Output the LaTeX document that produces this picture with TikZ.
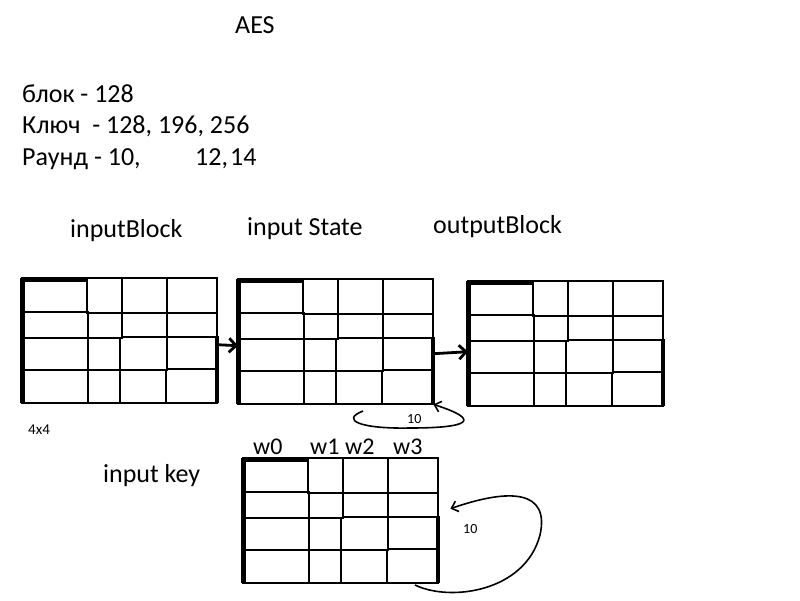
\documentclass[tikz,border=0pt]{standalone}
\usepackage{fontspec}
\setmainfont{Carlito}
\usetikzlibrary{arrows.meta}
\tikzset{
  lbl/.style={anchor=base west, inner sep=0, font=\fontsize{26}{30}\selectfont},
  small/.style={anchor=base west, inner sep=0, font=\fontsize{14}{16}\selectfont},
  gridframe/.style={minimum width=195pt, minimum height=125pt, inner sep=0, anchor=north west},
  gline/.style={line width=2.8pt, line cap=rect},
  bigarrow/.style={line width=2.8pt, -{Straight Barb[length=7pt,width=14pt]}},
  looparrow/.style={line width=1.6pt, -{Straight Barb[length=6pt,width=11pt]}},
  pics/aesgrid/.style={code={
    \draw[gline] (0,34) -- (65,34) (65,35) -- (195,35);
    \draw[gline] (0,60) -- (100,60) (100,59) -- (195,59);
    \draw[gline] (0,92) -- (145,92) (145,91) -- (195,91);
    \draw[gline] (65,0) -- (65,34) (66,34) -- (66,125);
    \draw[gline] (100,0) -- (100,60) (98,60) -- (98,125);
    \draw[gline] (145,0) -- (145,92) (144,92) -- (144,125);
    \draw[gline] (0,0) rectangle (195,125);
    \draw[line width=5pt] (0,1) -- (65,1);
    \draw[line width=4.5pt] (0.5,0) -- (0.5,125);
    \draw[line width=4.5pt] (195,58) -- (195,125);
  }}
}
\begin{document}
\begin{tikzpicture}[x=1pt,y=-1pt]
\useasboundingbox (0,0) rectangle (800,600);

% texts
\node[lbl] (aes) at (235,33) {AES};
\node[lbl] (blok) at (22,102) {блок - 128};
\node[lbl] (kl) at (22,133) {Ключ\ \ - 128, 196, 256};
\node[lbl] (raund) at (22,165) {Раунд - 10,};
\node[lbl] (r12) at (195,165) {12,};
\node[lbl] (r14) at (230,165) {14};
\node[lbl] (tin) at (70,237) {inputBlock};
\node[lbl] (tst) at (247,235) {input State};
\node[lbl] (tout) at (433,233) {outputBlock};
\node[lbl] (tkey) at (103,482) {input key};
\node[small, font=\fontsize{15}{17}\selectfont] (fx) at (28,434) {4x4};
\node[lbl, font=\fontsize{24}{28}\selectfont] (w0) at (253,454) {w0};
\node[lbl, font=\fontsize{24}{28}\selectfont] (w1) at (310,454) {w1};
\node[lbl, font=\fontsize{24}{28}\selectfont] (w2) at (345,454) {w2};
\node[lbl, font=\fontsize{24}{28}\selectfont] (w3) at (393,454) {w3};

% grids
\node[gridframe] (g1) at (22,278) {};
\node[gridframe] (g2) at (238,279) {};
\node[gridframe] (g3) at (468,281) {};
\node[gridframe] (g4) at (243,458) {};
\pic at (22,278) {aesgrid};
\pic at (238,279) {aesgrid};
\pic at (468,281) {aesgrid};
\pic at (243,458) {aesgrid};

% arrows
\draw[bigarrow] ([yshift=-4pt]g1.east) -- ([yshift=-4pt]g2.west);
\draw[bigarrow] ([yshift=-12pt]g2.east) -- ([yshift=-8pt]g3.west);

\coordinate (l1s) at (363,411);
\draw[looparrow] (l1s) .. controls (340,420) and (360,429) .. (410,428)
  .. controls (470,428) and (482,420) .. (g2.south east);
\node[small] (n10a) at (407,423) {10};

\coordinate (l2s) at (415,585);
\draw[looparrow] (l2s) .. controls (450,602) and (525,592) .. (540,535)
  .. controls (550,490) and (510,488) .. ([xshift=12pt,yshift=12pt]g4.east);
\node[small] (n10b) at (463,533) {10};
\end{tikzpicture}
\end{document}
